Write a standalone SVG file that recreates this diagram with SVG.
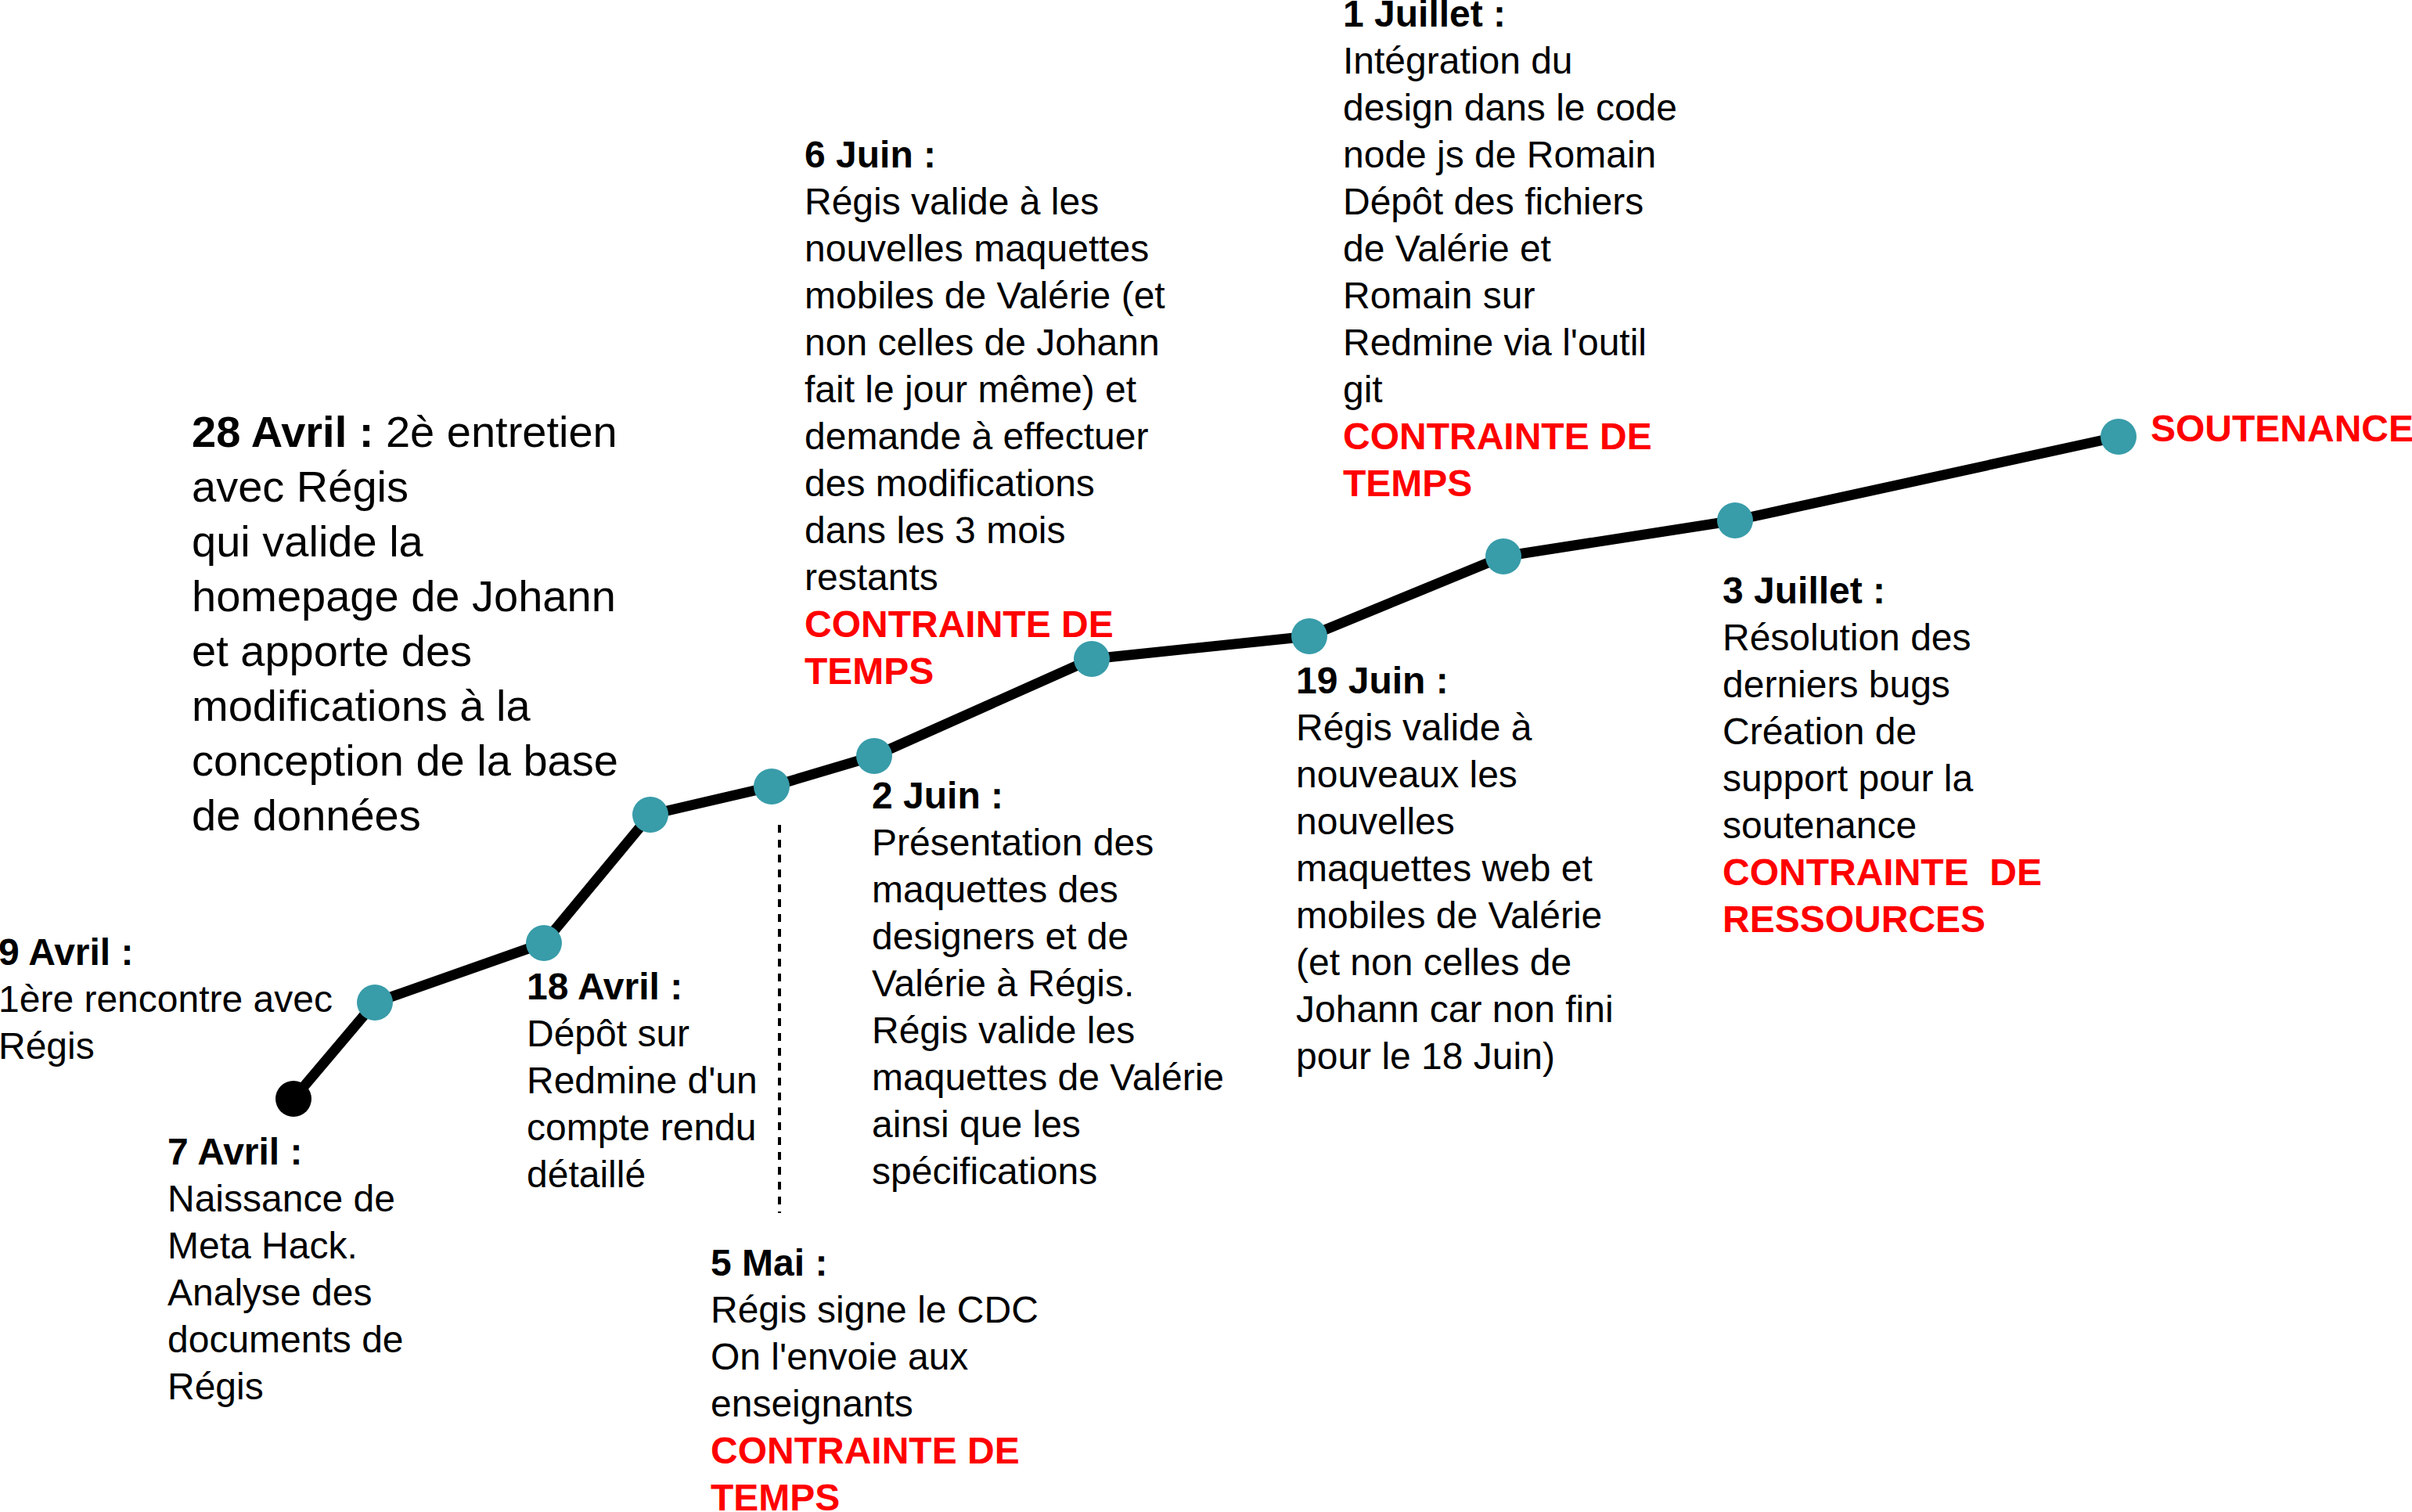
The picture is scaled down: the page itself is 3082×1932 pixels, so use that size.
<svg xmlns="http://www.w3.org/2000/svg" width="3082" height="1932" viewBox="0 0 3082 1932">
<style>
.t{font-family:"Liberation Sans",Arial,sans-serif;font-size:48px;fill:#000}
.big{font-size:56px}
.b{font-weight:bold}
.r{fill:#ff0000;font-weight:bold}
.dot{fill:#389ca9}
.line{fill:none;stroke:#000;stroke-width:13;stroke-linejoin:round}
.dash{fill:none;stroke:#000;stroke-width:4;stroke-dasharray:10 9}
</style>
<rect width="3082" height="1932" fill="#fff"/>
<g id="connectors">
<polyline class="line" points="375,1404 479,1281 695,1205 831,1041 986,1005 1117,966 1395,842 1673,813 1921,711 2217,665 2707,558"/>
<line class="dash" x1="996" y1="1054" x2="996" y2="1550"/>
</g>
<g id="n-7avril">
<circle cx="375" cy="1404" r="23" fill="#000"/>
<text class="t" x="214" y="1488"><tspan class="b">7 Avril :</tspan><tspan x="214" dy="60">Naissance de</tspan><tspan x="214" dy="60">Meta Hack.</tspan><tspan x="214" dy="60">Analyse des</tspan><tspan x="214" dy="60">documents de</tspan><tspan x="214" dy="60">Régis</tspan></text>
</g>
<g id="n-9avril">
<circle class="dot" cx="479" cy="1281" r="23"/>
<text class="t" x="-2" y="1233"><tspan class="b">9 Avril :</tspan><tspan x="-2" dy="60">1ère rencontre avec</tspan><tspan x="-2" dy="60">Régis</tspan></text>
</g>
<g id="n-18avril">
<circle class="dot" cx="695" cy="1205" r="23"/>
<text class="t" x="673" y="1277"><tspan class="b">18 Avril :</tspan><tspan x="673" dy="60">Dépôt sur</tspan><tspan x="673" dy="60">Redmine d'un</tspan><tspan x="673" dy="60">compte rendu</tspan><tspan x="673" dy="60">détaillé</tspan></text>
</g>
<g id="n-28avril">
<circle class="dot" cx="831" cy="1041" r="23"/>
<text class="t big" x="245" y="571"><tspan class="b">28 Avril :</tspan><tspan> 2è entretien</tspan><tspan x="245" dy="70">avec Régis</tspan><tspan x="245" dy="70">qui valide la</tspan><tspan x="245" dy="70">homepage de Johann</tspan><tspan x="245" dy="70">et apporte des</tspan><tspan x="245" dy="70">modifications à la</tspan><tspan x="245" dy="70">conception de la base</tspan><tspan x="245" dy="70">de données</tspan></text>
</g>
<g id="n-5mai">
<circle class="dot" cx="986" cy="1005" r="23"/>
<text class="t" x="908" y="1630"><tspan class="b">5 Mai :</tspan><tspan x="908" dy="60">Régis signe le CDC</tspan><tspan x="908" dy="60">On l'envoie aux</tspan><tspan x="908" dy="60">enseignants</tspan><tspan class="r" x="908" dy="60">CONTRAINTE DE</tspan><tspan class="r" x="908" dy="60">TEMPS</tspan></text>
</g>
<g id="n-2juin">
<circle class="dot" cx="1117" cy="966" r="23"/>
<text class="t" x="1114" y="1033"><tspan class="b">2 Juin :</tspan><tspan x="1114" dy="60">Présentation des</tspan><tspan x="1114" dy="60">maquettes des</tspan><tspan x="1114" dy="60">designers et de</tspan><tspan x="1114" dy="60">Valérie à Régis.</tspan><tspan x="1114" dy="60">Régis valide les</tspan><tspan x="1114" dy="60">maquettes de Valérie</tspan><tspan x="1114" dy="60">ainsi que les</tspan><tspan x="1114" dy="60">spécifications</tspan></text>
</g>
<g id="n-6juin">
<circle class="dot" cx="1395" cy="842" r="23"/>
<text class="t" x="1028" y="214"><tspan class="b">6 Juin :</tspan><tspan x="1028" dy="60">Régis valide à les</tspan><tspan x="1028" dy="60">nouvelles maquettes</tspan><tspan x="1028" dy="60">mobiles de Valérie (et</tspan><tspan x="1028" dy="60">non celles de Johann</tspan><tspan x="1028" dy="60">fait le jour même) et</tspan><tspan x="1028" dy="60">demande à effectuer</tspan><tspan x="1028" dy="60">des modifications</tspan><tspan x="1028" dy="60">dans les 3 mois</tspan><tspan x="1028" dy="60">restants</tspan><tspan class="r" x="1028" dy="60">CONTRAINTE DE</tspan><tspan class="r" x="1028" dy="60">TEMPS</tspan></text>
</g>
<g id="n-19juin">
<circle class="dot" cx="1673" cy="813" r="23"/>
<text class="t" x="1656" y="886"><tspan class="b">19 Juin :</tspan><tspan x="1656" dy="60">Régis valide à</tspan><tspan x="1656" dy="60">nouveaux les</tspan><tspan x="1656" dy="60">nouvelles</tspan><tspan x="1656" dy="60">maquettes web et</tspan><tspan x="1656" dy="60">mobiles de Valérie</tspan><tspan x="1656" dy="60">(et non celles de</tspan><tspan x="1656" dy="60">Johann car non fini</tspan><tspan x="1656" dy="60">pour le 18 Juin)</tspan></text>
</g>
<g id="n-1juillet">
<circle class="dot" cx="1921" cy="711" r="23"/>
<text class="t" x="1716" y="34"><tspan class="b">1 Juillet :</tspan><tspan x="1716" dy="60">Intégration du</tspan><tspan x="1716" dy="60">design dans le code</tspan><tspan x="1716" dy="60">node js de Romain</tspan><tspan x="1716" dy="60">Dépôt des fichiers</tspan><tspan x="1716" dy="60">de Valérie et</tspan><tspan x="1716" dy="60">Romain sur</tspan><tspan x="1716" dy="60">Redmine via l'outil</tspan><tspan x="1716" dy="60">git</tspan><tspan class="r" x="1716" dy="60">CONTRAINTE DE</tspan><tspan class="r" x="1716" dy="60">TEMPS</tspan></text>
</g>
<g id="n-3juillet">
<circle class="dot" cx="2217" cy="665" r="23"/>
<text class="t" x="2201" y="771" xml:space="preserve"><tspan class="b">3 Juillet :</tspan><tspan x="2201" dy="60">Résolution des</tspan><tspan x="2201" dy="60">derniers bugs</tspan><tspan x="2201" dy="60">Création de</tspan><tspan x="2201" dy="60">support pour la</tspan><tspan x="2201" dy="60">soutenance</tspan><tspan class="r" x="2201" dy="60">CONTRAINTE  DE</tspan><tspan class="r" x="2201" dy="60">RESSOURCES</tspan></text>
</g>
<g id="n-soutenance">
<circle class="dot" cx="2707" cy="558" r="23"/>
<text class="t r" x="2748" y="564">SOUTENANCE</text>
</g>
</svg>
